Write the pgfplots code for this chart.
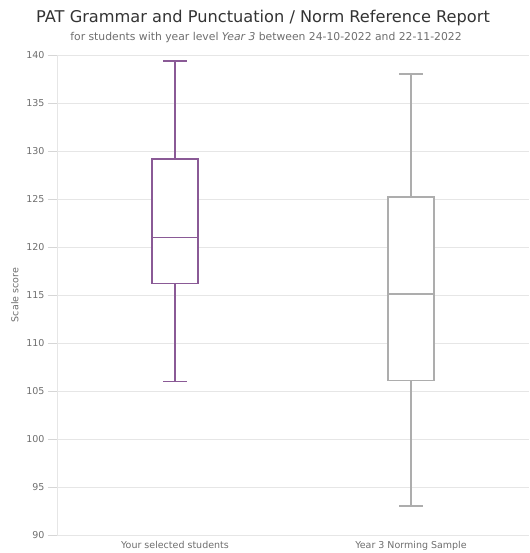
\documentclass[border=0pt]{standalone}
\usepackage{fontspec}
\setmainfont{DejaVu Sans}
\usepackage{pgfplots}
\pgfplotsset{compat=1.18}
\usepgfplotslibrary{statistics}
\usetikzlibrary{calc}
\definecolor{boxpurple}{HTML}{8A5A96}
\definecolor{boxgray}{HTML}{ADADAD}
\definecolor{gridc}{HTML}{E6E6E6}
\definecolor{tickm}{HTML}{D6D6D6}
\definecolor{tickc}{HTML}{6E6E6E}
\definecolor{titlec}{HTML}{333333}
\begin{document}
\begin{tikzpicture}
\begin{axis}[
  name=ax,
  scale only axis,
  width=472pt, height=480pt,
  xmin=-0.5, xmax=1.5,
  ymin=90, ymax=140,
  ytick={90,95,...,140},
  xtick={0,1},
  xticklabels={Your selected students, Year 3 Norming Sample},
  xticklabel style={font=\fontsize{9.5}{11}\selectfont, text=tickc, anchor=north, inner sep=0pt},
  xticklabel shift=-3pt,
  yticklabel style={font=\fontsize{9.5}{11}\selectfont, text=tickc},
  every tick/.style={draw=tickm, line width=0.9pt},
  xtick style={draw=none},
  ytick pos=left,
  tick align=outside,
  major tick length=9pt,
  ymajorgrids,
  grid style={draw=gridc, line width=0.8pt},
  axis lines*=left,
  x axis line style={draw=none},
  y axis line style={draw=gridc, line width=0.8pt},
  ylabel={Scale score},
  ylabel style={font=\fontsize{9.5}{11}\selectfont, text=tickc},
  ylabel shift=1pt,
  /pgf/number format/assume math mode=true,
  boxplot/draw direction=y,
]
\addplot+[boxplot prepared={draw position=0, box extend=0.195, whisker extend=0.1, lower whisker=106, lower quartile=116.2, median=121, upper quartile=129.2, upper whisker=139.4},
  draw=boxpurple, line width=1.7pt, fill=white, mark=none, solid,
  boxplot/every box/.style={draw=boxpurple, fill=white, line width=1.7pt}]
  coordinates {};
\addplot[draw=boxpurple, line width=1.7pt, mark=none] coordinates {(-0.0975,121) (0.0975,121)};
\addplot+[boxplot prepared={draw position=1, box extend=0.195, whisker extend=0.1, lower whisker=93, lower quartile=106.1, median=115.1, upper quartile=125.2, upper whisker=138},
  draw=boxgray, line width=1.7pt, fill=white, mark=none, solid,
  boxplot/every box/.style={draw=boxgray, fill=white, line width=1.7pt}]
  coordinates {};
\addplot[draw=boxgray, line width=1.7pt, mark=none] coordinates {(0.9025,115.1) (1.0975,115.1)};
\end{axis}
\node[font=\fontsize{16.2}{19}\selectfont, text=titlec] at ($(ax.north west)+(206pt,37pt)$) {PAT Grammar and Punctuation / Norm Reference Report};
\node[font=\fontsize{10.8}{13}\selectfont, text=tickc] at ($(ax.north west)+(209pt,17pt)$) {for students with year level \textit{Year 3} between 24-10-2022 and 22-11-2022};
\pgfresetboundingbox
\path ($(ax.south west)+(-57pt,-18pt)$) rectangle ($(ax.north east)+(0pt,55pt)$);
\end{tikzpicture}
\end{document}
